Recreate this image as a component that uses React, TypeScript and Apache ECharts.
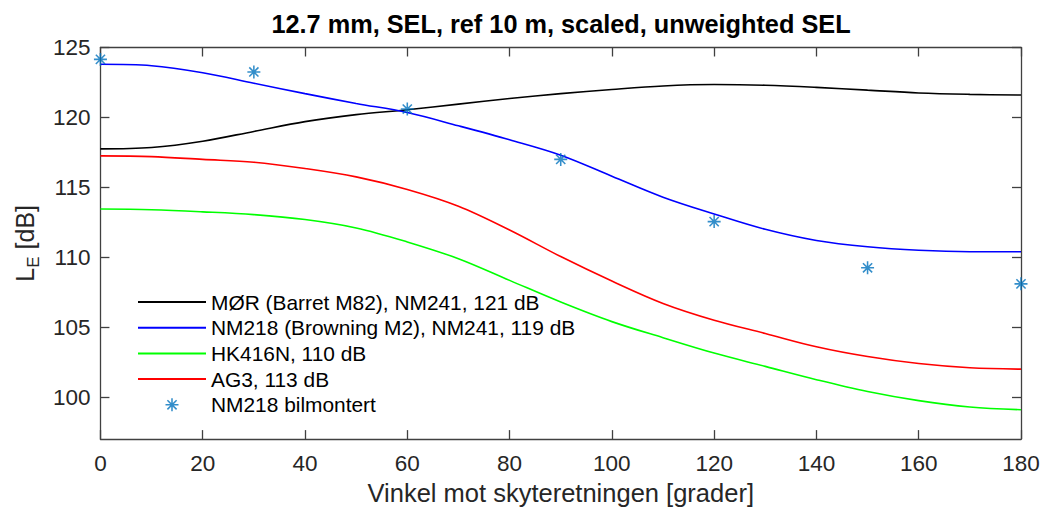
import React, { useEffect, useRef } from "react";
import * as echarts from "echarts";

const angles = [0, 10, 20, 30, 40, 50, 60, 70, 80, 90, 100, 110, 120, 130, 140, 150, 160, 170, 180];
const morValues = [117.75, 117.85, 118.3, 119.0, 119.7, 120.2, 120.55, 120.95, 121.35, 121.7, 122.0, 122.25, 122.35, 122.3, 122.15, 121.95, 121.75, 121.65, 121.6];
const nm218Values = [123.8, 123.7, 123.2, 122.45, 121.7, 121.0, 120.35, 119.4, 118.4, 117.3, 115.8, 114.3, 113.1, 112.0, 111.2, 110.75, 110.5, 110.4, 110.4];
const hk416Values = [113.45, 113.4, 113.25, 113.05, 112.7, 112.1, 111.1, 109.9, 108.35, 106.8, 105.4, 104.25, 103.15, 102.2, 101.25, 100.4, 99.75, 99.3, 99.1];
const ag3Values = [117.25, 117.2, 117.0, 116.8, 116.35, 115.75, 114.85, 113.65, 111.95, 110.05, 108.3, 106.7, 105.5, 104.55, 103.6, 102.9, 102.4, 102.1, 102.0];
const measuredAngles = [0, 30, 60, 90, 120, 150, 180];
const measuredValues = [124.15, 123.25, 120.6, 117.0, 112.55, 109.25, 108.1];

const seriesNames = [
  "MØR (Barret M82), NM241, 121 dB",
  "NM218 (Browning M2), NM241, 119 dB",
  "HK416N, 110 dB",
  "AG3, 113 dB",
  "NM218 bilmontert",
];
const yTicks = [100, 105, 110, 115, 120, 125];
const titleText = "12.7 mm, SEL, ref 10 m, scaled, unweighted SEL";
const xName = "Vinkel mot skyteretningen [grader]";

const ASTERISK =
  "path://M8.8 0L11.2 0L11.2 20L8.8 20Z M0 8.8L20 8.8L20 11.2L0 11.2Z M3.78 2.08L17.92 16.22L16.22 17.92L2.08 3.78Z M16.22 2.08L17.92 3.78L3.78 17.92L2.08 16.22Z";

const FONT = "'Liberation Sans', Arial, Helvetica, sans-serif";
const AXIS_COLOR = "#404040";

export default function App() {
  const ref = useRef<HTMLDivElement>(null);
  useEffect(() => {
    if (!ref.current) return;
    const chart = echarts.init(ref.current, undefined, { renderer: "svg" });
    const pair = (xs: number[], ys: number[]) => xs.map((x, i) => [x, ys[i]]);
    const lineSeries = (name: string, ys: number[], color: string) => ({
      name,
      type: "line",
      data: pair(angles, ys),
      symbol: "none",
      smooth: 0.35,
      lineStyle: { color, width: 1.6 },
      itemStyle: { color },
      z: 2,
    });
    const axisCommon = {
      type: "value",
      axisLine: { show: true, onZero: false, lineStyle: { color: AXIS_COLOR, width: 1.3 } },
      axisTick: { show: true, inside: true, length: 9, lineStyle: { color: AXIS_COLOR, width: 1.3 } },
      splitLine: { show: false },
    };
    chart.setOption({
      animation: false,
      backgroundColor: "#ffffff",
      textStyle: { fontFamily: FONT },
      grid: { left: 100, right: 22, top: 47.5, bottom: 68.5, containLabel: false },
      graphic: [
        {
          type: "text",
          x: 561,
          y: 11,
          style: {
            text: titleText,
            fontSize: 25.3,
            fontWeight: "bold",
            fontFamily: FONT,
            fill: "#000",
            align: "center",
            verticalAlign: "top",
          },
        },
      ],
      legend: {
        orient: "vertical",
        left: 137,
        top: 291,
        padding: 0,
        itemWidth: 68,
        itemHeight: 13,
        itemGap: 3.7,
        textStyle: { fontSize: 20.9, color: "#000", fontFamily: FONT, lineHeight: 22 },
        data: [
          { name: seriesNames[0], itemStyle: { opacity: 0 } },
          { name: seriesNames[1], itemStyle: { opacity: 0 } },
          { name: seriesNames[2], itemStyle: { opacity: 0 } },
          { name: seriesNames[3], itemStyle: { opacity: 0 } },
          { name: seriesNames[4] },
        ],
      },
      xAxis: [
        {
          ...axisCommon,
          position: "bottom",
          min: 0,
          max: 180,
          interval: 20,
          name: xName,
          nameLocation: "middle",
          nameGap: 40,
          nameTextStyle: { fontSize: 25.5, color: "#262626", fontFamily: FONT },
          axisLabel: { fontSize: 22.5, color: "#262626", margin: 13, fontFamily: FONT },
        },
        {
          ...axisCommon,
          position: "top",
          min: 0,
          max: 180,
          interval: 20,
          axisLabel: { show: false },
        },
      ],
      yAxis: [
        {
          ...axisCommon,
          position: "left",
          min: 97,
          max: 125,
          axisTick: { ...axisCommon.axisTick, customValues: yTicks },
          axisLabel: { fontSize: 22.5, color: "#262626", margin: 10, fontFamily: FONT, customValues: yTicks },
          name: "L{sub|E} [dB]",
          nameLocation: "middle",
          nameGap: 60,
          nameTextStyle: {
            fontSize: 25,
            color: "#262626",
            fontFamily: FONT,
            lineHeight: 34,
            verticalAlign: "top",
            rich: {
              sub: { fontSize: 17, lineHeight: 34, verticalAlign: "bottom", color: "#262626", fontFamily: FONT },
            },
          },
        },
        {
          ...axisCommon,
          position: "right",
          min: 97,
          max: 125,
          axisTick: { ...axisCommon.axisTick, customValues: yTicks },
          axisLabel: { show: false, customValues: yTicks },
        },
      ],
      series: [
        lineSeries(seriesNames[0], morValues, "#000000"),
        lineSeries(seriesNames[1], nm218Values, "#0000ff"),
        lineSeries(seriesNames[2], hk416Values, "#00ff00"),
        lineSeries(seriesNames[3], ag3Values, "#ff0000"),
        {
          name: seriesNames[4],
          type: "scatter",
          data: pair(measuredAngles, measuredValues),
          symbol: ASTERISK,
          symbolSize: 13,
          itemStyle: { color: "#0072bd" },
          clip: false,
          z: 3,
        },
      ],
    });
    return () => chart.dispose();
  }, []);
  return <div ref={ref} style={{ position: "absolute", left: 0, top: 0, width: 1043, height: 511 }} />;
}
